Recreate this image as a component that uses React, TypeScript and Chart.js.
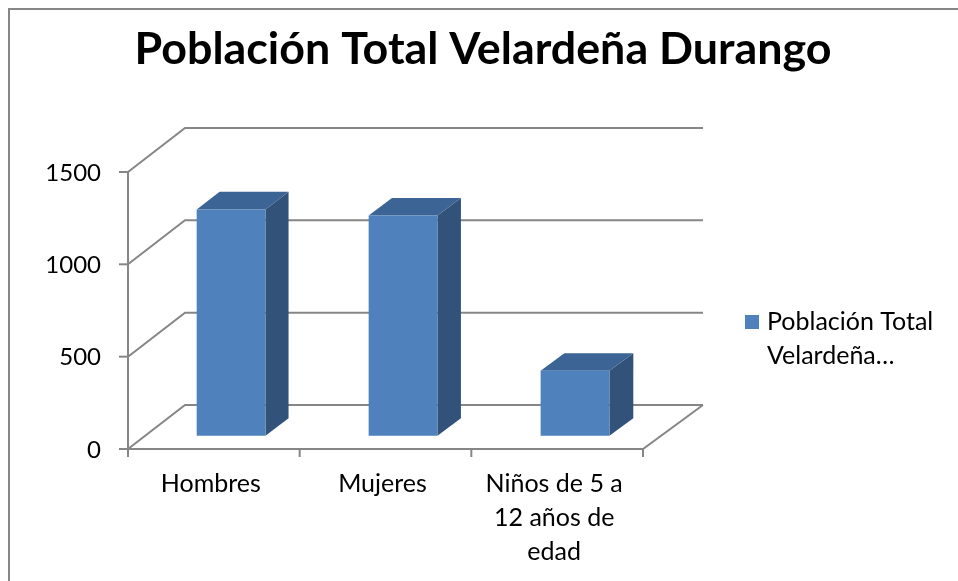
import React, { useEffect, useRef } from "react";
import { Chart, registerables } from "chart.js";

Chart.register(...registerables);

const TITLE = "Población Total Velardeña Durango";
const CATEGORIES: string[][] = [["Hombres"], ["Mujeres"], ["Niños de 5 a", "12 años de", "edad"]];
const SERIES_LABEL = "Población Total Velardeña Durango";
const LEGEND_LINES = ["Población Total", "Velardeña…"];
const VALUES = [1226, 1193, 352];
const Y_TICKS = [0, 500, 1000, 1500];

const FRONT = "#4F81BD";
const TOP = "#3C6494";
const SIDE = "#32527A";
const LINE = "#868686";
const FONT = "Lato, 'DejaVu Sans', sans-serif";

const DEPTH_DY = -44;
const DEPTH_DXL = 57;
const DEPTH_DXR = 60;
const BAR_F0 = 0.3;
const BAR_F1 = 0.7;

const threeD = {
  id: "threeD",
  beforeDraw(chart: any) {
    const ctx = chart.ctx;
    const W = chart.width;
    const H = chart.height;
    ctx.save();
    ctx.fillStyle = "#ffffff";
    ctx.fillRect(0, 0, W, H);
    ctx.strokeStyle = "#878787";
    ctx.lineWidth = 2;
    ctx.beginPath();
    ctx.moveTo(9, H);
    ctx.lineTo(9, 9);
    ctx.lineTo(W, 9);
    ctx.stroke();
    ctx.restore();
  },
  afterDatasetsDraw(chart: any) {
    const ctx = chart.ctx;
    const area = chart.chartArea;
    const xs = chart.scales.x;
    const ys = chart.scales.y;
    const L = area.left, R = area.right, B = area.bottom;
    const dxAt = (x: number) => DEPTH_DXL + (DEPTH_DXR - DEPTH_DXL) * (x - L) / (R - L);
    const p = (x: number, y: number, f: number): [number, number] => [x + f * dxAt(x), y + f * DEPTH_DY];

    ctx.save();
    ctx.strokeStyle = LINE;
    ctx.lineWidth = 2;
    ctx.lineJoin = "miter";
    for (const v of Y_TICKS) {
      const y = ys.getPixelForValue(v);
      const a = p(L, y, 1);
      const b = p(R, y, 1);
      ctx.beginPath();
      ctx.moveTo(L, y);
      ctx.lineTo(a[0], a[1]);
      ctx.lineTo(b[0], b[1]);
      ctx.stroke();
      ctx.beginPath();
      ctx.moveTo(L - 9, y);
      ctx.lineTo(L, y);
      ctx.stroke();
    }
    const yTop = ys.getPixelForValue(Y_TICKS[Y_TICKS.length - 1]);
    ctx.beginPath();
    ctx.moveTo(L, yTop);
    ctx.lineTo(L, B);
    ctx.stroke();
    const fr = p(R, B, 1);
    ctx.beginPath();
    ctx.moveTo(L, B);
    ctx.lineTo(R, B);
    ctx.lineTo(fr[0], fr[1]);
    ctx.stroke();
    const n = CATEGORIES.length;
    for (let i = 0; i <= n; i++) {
      const x = L + (R - L) * i / n;
      ctx.beginPath();
      ctx.moveTo(x, B);
      ctx.lineTo(x, B + 8);
      ctx.stroke();
    }

    const meta = chart.getDatasetMeta(0);
    meta.data.forEach((el: any) => {
      const { x, y, base, width } = el.getProps(["x", "y", "base", "width"], true);
      const x0 = x - width / 2, x1 = x + width / 2;
      const poly = (pts: [number, number][], color: string) => {
        ctx.beginPath();
        ctx.moveTo(pts[0][0], pts[0][1]);
        for (let k = 1; k < pts.length; k++) ctx.lineTo(pts[k][0], pts[k][1]);
        ctx.closePath();
        ctx.fillStyle = color;
        ctx.fill();
      };
      poly([p(x1, y, BAR_F0), p(x1, y, BAR_F1), p(x1, base, BAR_F1), p(x1, base, BAR_F0)], SIDE);
      poly([p(x0, y, BAR_F0), p(x1, y, BAR_F0), p(x1, y, BAR_F1), p(x0, y, BAR_F1)], TOP);
      poly([p(x0, y, BAR_F0), p(x1, y, BAR_F0), p(x1, base, BAR_F0), p(x0, base, BAR_F0)], FRONT);
    });

    ctx.fillStyle = "#000000";
    ctx.font = `24px ${FONT}`;
    ctx.textAlign = "right";
    ctx.textBaseline = "middle";
    for (const v of Y_TICKS) {
      ctx.fillText(String(v), L - 27, ys.getPixelForValue(v) + 1);
    }
    ctx.font = `25px ${FONT}`;
    ctx.textAlign = "center";
    ctx.textBaseline = "alphabetic";
    CATEGORIES.forEach((lines, i) => {
      const cx = xs.getPixelForValue(i);
      lines.forEach((t, j) => ctx.fillText(t, cx - 3, B + 43 + j * 34));
    });

    const lx = 745, ly = 315;
    ctx.fillStyle = FRONT;
    ctx.fillRect(lx, ly, 14, 14);
    ctx.fillStyle = "#000000";
    ctx.textAlign = "left";
    LEGEND_LINES.forEach((t, j) => ctx.fillText(t, lx + 22, ly + 15 + j * 34));

    ctx.font = `bold 40px ${FONT}`;
    const w = ctx.measureText(TITLE).width;
    const size = 40 * 697 / w;
    ctx.font = `bold ${size}px ${FONT}`;
    ctx.textAlign = "center";
    ctx.fillText(TITLE, 483, 64);
    ctx.restore();
  },
};

export default function App() {
  const ref = useRef<HTMLCanvasElement | null>(null);
  useEffect(() => {
    if (!ref.current) return;
    const chart = new Chart(ref.current, {
      type: "bar",
      data: {
        labels: CATEGORIES.map((c) => c.join(" ")),
        datasets: [
          {
            label: SERIES_LABEL,
            data: VALUES,
            backgroundColor: "rgba(0,0,0,0)",
            borderWidth: 0,
            barPercentage: 0.4,
            categoryPercentage: 1,
          },
        ],
      },
      options: {
        responsive: false,
        animation: false,
        events: [],
        layout: { padding: { left: 128, top: 172, right: 315, bottom: 132 } },
        plugins: { legend: { display: false }, title: { display: false }, tooltip: { enabled: false } },
        scales: {
          x: { display: false, offset: true },
          y: { display: false, min: 0, max: 1500, ticks: { stepSize: 500 } },
        },
      },
      plugins: [threeD],
    });
    return () => chart.destroy();
  }, []);
  return (
    <div style={{ position: "absolute", left: 0, top: 0, width: 958, height: 581 }}>
      <canvas ref={ref} width={958} height={581} style={{ display: "block", width: 958, height: 581 }} />
    </div>
  );
}
